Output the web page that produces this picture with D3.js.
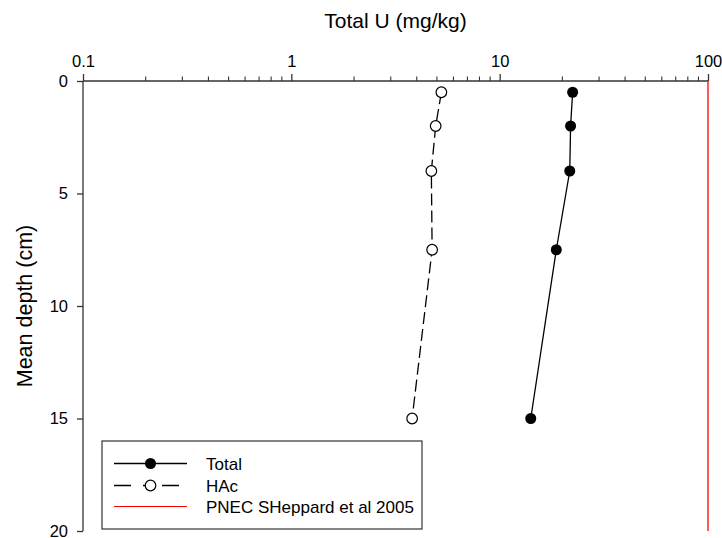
<!DOCTYPE html>
<html>
<head>
<meta charset="utf-8">
<script src="https://cdn.jsdelivr.net/npm/d3@7"></script>
<style>
  body { margin: 0; background: #fff; }
  text { font-family: "Liberation Sans", Arial, sans-serif; fill: #000; }
</style>
</head>
<body>
<div id="chart"></div>
<script>
var svgWidth = 722;
var svgHeight = 538;

var margin = { top: 81, right: 14, bottom: 7, left: 83 };
var width = svgWidth - margin.left - margin.right;
var height = svgHeight - margin.top - margin.bottom;

// data
var depths = [0.5, 2, 4, 7.5, 15];
var totalU = [22.4, 21.9, 21.7, 18.7, 14.1];
var hacU = [5.25, 4.93, 4.70, 4.74, 3.80];
var pnec = 100;
var xTicks = [0.1, 1, 10, 100];
var yTicks = [0, 5, 10, 15, 20];
var legendLabels = ["Total", "HAc", "PNEC SHeppard et al 2005"];

var svg = d3.select("#chart").append("svg")
  .attr("width", svgWidth)
  .attr("height", svgHeight);

var g = svg.append("g")
  .attr("transform", `translate(${margin.left}, ${margin.top})`);

var x = d3.scaleLog().domain([0.1, 100]).range([0, width]);
var y = d3.scaleLinear().domain([0, 20]).range([0, height]);

// minor ticks on log axis
var minor = [];
[0.1, 1, 10].forEach(function(dec) {
  for (var k = 2; k <= 9; k++) minor.push(dec * k);
});

var xAxis = g.append("g");
xAxis.call(d3.axisTop(x).tickValues(xTicks).tickFormat(d => String(d)).tickSize(7).tickPadding(7));
xAxis.selectAll(".tick text").attr("font-size", 16.5).style("font-family", "Liberation Sans, Arial, sans-serif");
xAxis.select(".domain").attr("stroke", "#333").attr("stroke-width", 1.3).attr("d", `M0,0H${width}`);
xAxis.selectAll(".tick line").attr("stroke", "#333").attr("stroke-width", 1.3);

g.append("g").selectAll("line")
  .data(minor)
  .enter()
  .append("line")
  .attr("x1", d => x(d)).attr("x2", d => x(d))
  .attr("y1", 0).attr("y2", -4.5)
  .attr("stroke", "#333").attr("stroke-width", 1.1);

var yAxis = g.append("g");
yAxis.call(d3.axisLeft(y).tickValues(yTicks).tickSize(6).tickPadding(9));
yAxis.selectAll(".tick text").attr("font-size", 16.5).style("font-family", "Liberation Sans, Arial, sans-serif");
yAxis.select(".domain").attr("stroke", "#333").attr("stroke-width", 1.3).attr("d", `M0,0V${height}`);
yAxis.selectAll(".tick line").attr("stroke", "#333").attr("stroke-width", 1.3);

// axis titles
g.append("text")
  .attr("x", width / 2)
  .attr("y", -53)
  .attr("text-anchor", "middle")
  .attr("font-size", 21)
  .text("Total U (mg/kg)");

g.append("text")
  .attr("transform", "rotate(-90)")
  .attr("x", -height / 2)
  .attr("y", -51)
  .attr("text-anchor", "middle")
  .attr("font-size", 21.5)
  .text("Mean depth (cm)");

// PNEC line
g.append("line")
  .attr("x1", x(pnec)).attr("x2", x(pnec))
  .attr("y1", y(0)).attr("y2", y(20))
  .attr("stroke", "#ff0000").attr("stroke-width", 1.3);

var line = d3.line().x(d => x(d[0])).y(d => y(d[1]));

var totalData = totalU.map((v, i) => [v, depths[i]]);
var hacData = hacU.map((v, i) => [v, depths[i]]);

g.append("path")
  .datum(hacData)
  .attr("d", line)
  .attr("fill", "none")
  .attr("stroke", "#000")
  .attr("stroke-width", 1.3)
  .attr("stroke-dasharray", "12,5");

g.append("path")
  .datum(totalData)
  .attr("d", line)
  .attr("fill", "none")
  .attr("stroke", "#000")
  .attr("stroke-width", 1.3);

g.selectAll(".hac")
  .data(hacData)
  .enter()
  .append("circle")
  .attr("class", "hac")
  .attr("cx", d => x(d[0]))
  .attr("cy", d => y(d[1]))
  .attr("r", 5.3)
  .attr("fill", "#fff")
  .attr("stroke", "#000")
  .attr("stroke-width", 1.2);

g.selectAll(".total")
  .data(totalData)
  .enter()
  .append("circle")
  .attr("class", "total")
  .attr("cx", d => x(d[0]))
  .attr("cy", d => y(d[1]))
  .attr("r", 5.5)
  .attr("fill", "#000");

// legend
var legend = svg.append("g").attr("transform", "translate(102, 441)");
legend.append("rect")
  .attr("width", 320).attr("height", 88)
  .attr("fill", "#fff")
  .attr("stroke", "#333").attr("stroke-width", 1.2);

var rows = [22.5, 44.5, 65.5];
legend.append("line").attr("x1", 12).attr("x2", 85).attr("y1", rows[0]).attr("y2", rows[0])
  .attr("stroke", "#000").attr("stroke-width", 1.3);
legend.append("circle").attr("cx", 48.5).attr("cy", rows[0]).attr("r", 5.5).attr("fill", "#000");

legend.append("line").attr("x1", 12).attr("x2", 85).attr("y1", rows[1]).attr("y2", rows[1])
  .attr("stroke", "#000").attr("stroke-width", 1.3)
  .attr("stroke-dasharray", "17,12,7,12,17");
legend.append("circle").attr("cx", 48.5).attr("cy", rows[1]).attr("r", 5.3)
  .attr("fill", "#fff").attr("stroke", "#000").attr("stroke-width", 1.2);

legend.append("line").attr("x1", 12).attr("x2", 85).attr("y1", rows[2]).attr("y2", rows[2])
  .attr("stroke", "#ff0000").attr("stroke-width", 1);

legend.selectAll(".lt")
  .data(legendLabels)
  .enter()
  .append("text")
  .attr("class", "lt")
  .attr("x", 104)
  .attr("y", (d, i) => rows[i] + 6.5)
  .attr("font-size", 17)
  .text(d => d);
</script>
</body>
</html>
